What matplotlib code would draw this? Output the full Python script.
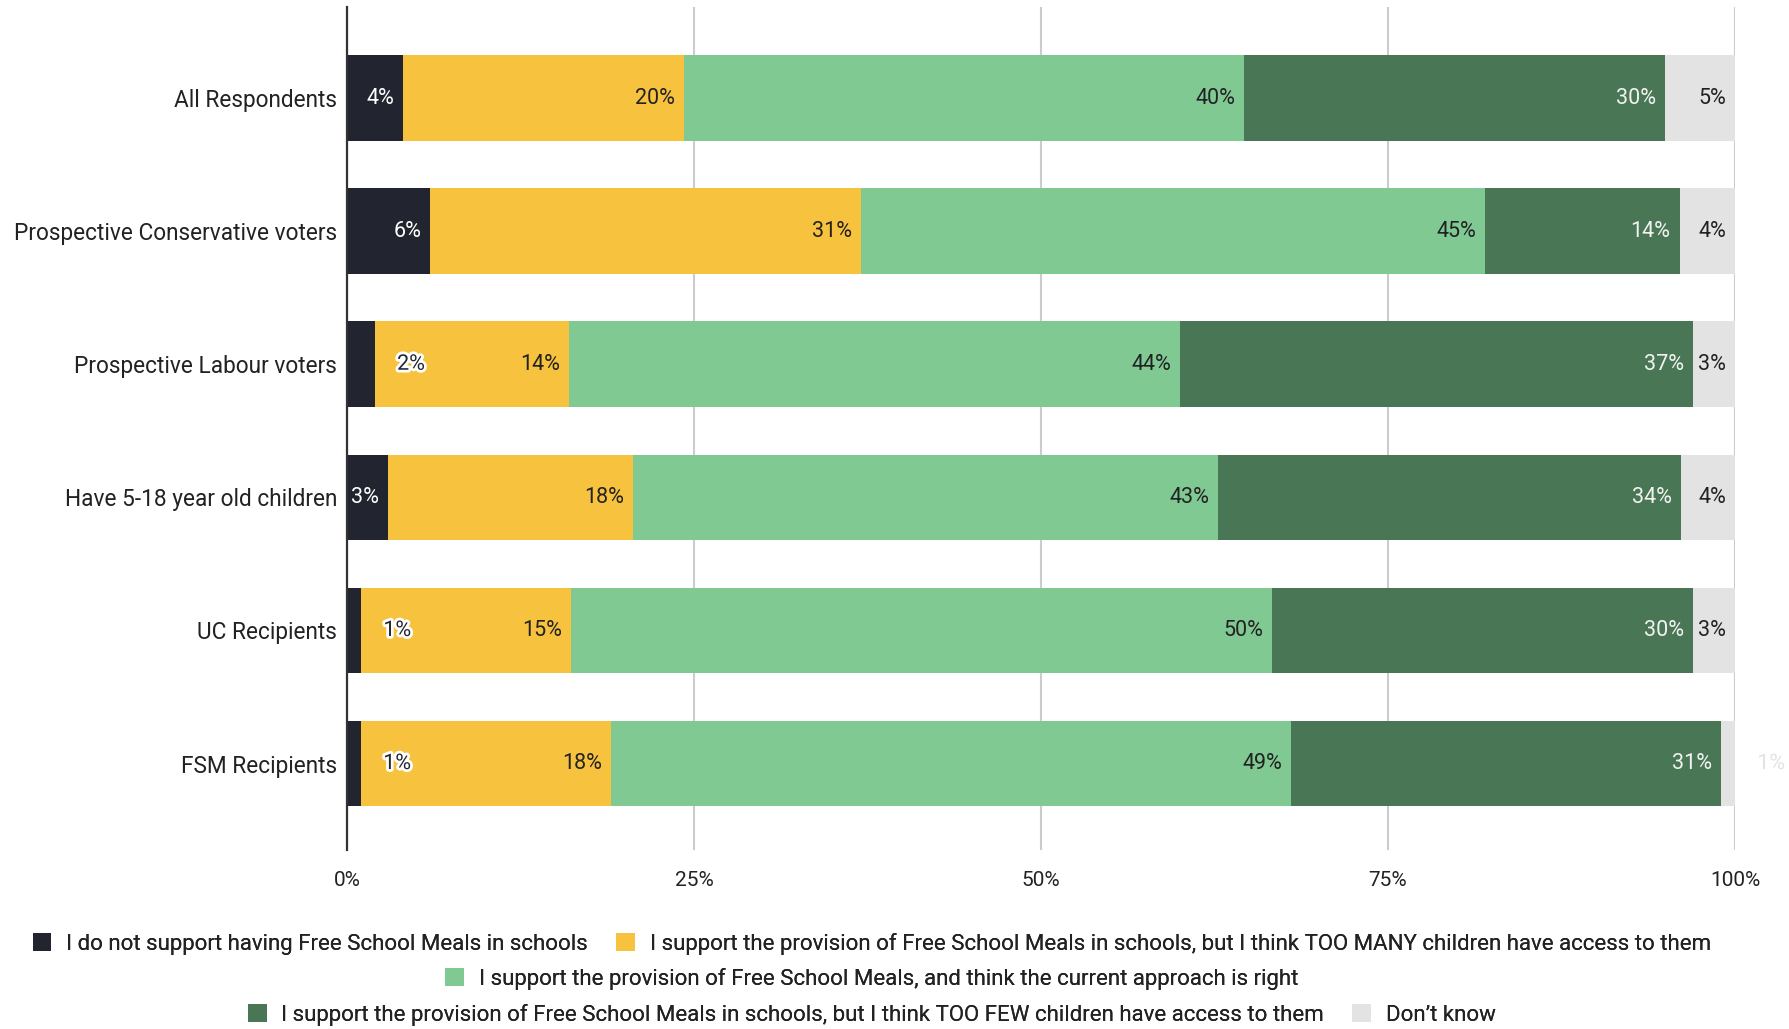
import numpy as np
import matplotlib
matplotlib.use('Agg')
import matplotlib.pyplot as plt
import matplotlib.patheffects as pe
from matplotlib.patches import Patch
from matplotlib.ticker import FuncFormatter

plt.rcParams['font.family'] = ['Roboto', 'DejaVu Sans']

categories = ['All Respondents', 'Prospective Conservative voters', 'Prospective Labour voters',
              'Have 5-18 year old children', 'UC Recipients', 'FSM Recipients']
series_names = ['I do not support having Free School Meals in schools',
                'I support the provision of Free School Meals in schools, but I think TOO MANY children have access to them',
                'I support the provision of Free School Meals, and think the current approach is right',
                'I support the provision of Free School Meals in schools, but I think TOO FEW children have access to them',
                'Don\u2019t know']
not_support = [4, 6, 2, 3, 1, 1]
too_many = [20, 31, 14, 18, 15, 18]
current_right = [40, 45, 44, 43, 50, 49]
too_few = [30, 14, 37, 34, 30, 31]
dont_know = [5, 4, 3, 4, 3, 1]
xticks = [0, 25, 50, 75, 100]

colors = ['#22252f', '#f7c23d', '#80c993', '#497755', '#e3e3e3']
label_colors = ['#ffffff', '#222222', '#222222', '#f2f2f2', '#222222']

series = np.array([not_support, too_many, current_right, too_few, dont_know], dtype=float)
# bars are drawn as shares of each row total
shares = series / series.sum(axis=0) * 100

fig = plt.figure(figsize=(17.9, 10.29), dpi=100)
ax = fig.add_axes([0.1939, 0.174, 0.9693 - 0.1939, 0.9932 - 0.174])

y = np.arange(len(categories))
left = np.zeros(len(categories))
for i in range(len(series)):
    ax.barh(y, shares[i], left=left, height=0.643, color=colors[i], zorder=2)
    for j in range(len(categories)):
        end = left[j] + shares[i][j]
        txt = '%d%%' % series[i][j]
        if shares[i][j] < 2.5:
            t = ax.annotate(txt, (end, y[j]), xytext=(16, 0), textcoords='offset points',
                            ha='left', va='center', fontsize=15.5, color=colors[i], zorder=4,
                            annotation_clip=False)
            t.set_path_effects([pe.withStroke(linewidth=4, foreground='white')])
        else:
            ax.annotate(txt, (end, y[j]), xytext=(-6.5, 0), textcoords='offset points',
                        ha='right', va='center', fontsize=15.5, color=label_colors[i], zorder=3)
    left += shares[i]

ax.set_xlim(0, 100)
ax.set_ylim(5.649, -0.684)
ax.set_yticks(y)
ax.set_yticklabels(categories, fontsize=16.3, color='#222222')
ax.set_xticks(xticks)
ax.xaxis.set_major_formatter(FuncFormatter(lambda v, p: '%d%%' % v))
ax.tick_params(axis='x', length=0, pad=15, labelsize=15, labelcolor='#222222')
ax.tick_params(axis='y', length=0, pad=7)
ax.grid(axis='x', color='#cccccc', linewidth=1.5, zorder=0)
ax.set_axisbelow(True)
for s in ['top', 'right', 'bottom']:
    ax.spines[s].set_visible(False)
ax.spines['left'].set_color('#333333')
ax.spines['left'].set_linewidth(1.6)
ax.spines['left'].set_zorder(5)

handles = [Patch(facecolor=c, edgecolor='none') for c in colors]
rows = [([0, 1], 0.083), ([2], 0.049), ([3, 4], 0.014)]
for idx, ypos in rows:
    leg = fig.legend([handles[k] for k in idx], [series_names[k] for k in idx],
                     loc='center', bbox_to_anchor=(0.487, ypos), ncol=len(idx), frameon=False,
                     fontsize=16, handlelength=0.85, handleheight=0.85, handletextpad=0.67,
                     columnspacing=1.26, labelcolor='#222222')
    fig.add_artist(leg)

fig.savefig('out.png', dpi=100)
